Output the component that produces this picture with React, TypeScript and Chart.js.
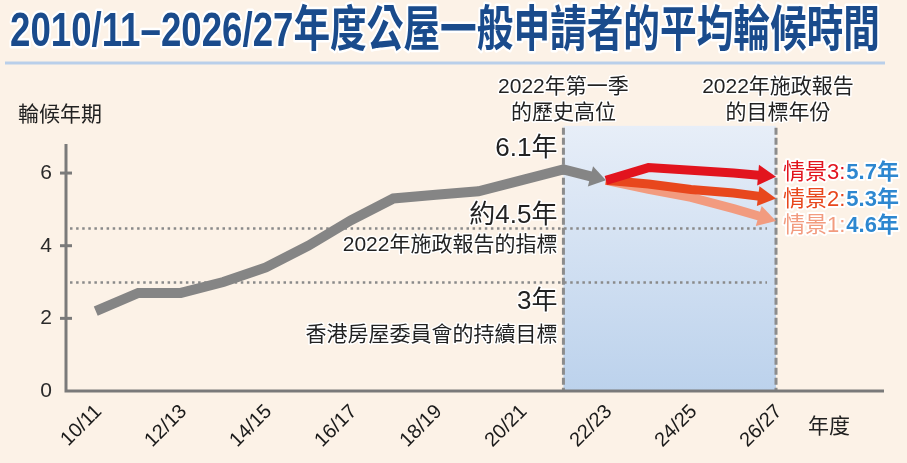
import React, { useEffect, useRef } from 'react';
import { Chart, registerables } from 'chart.js';

Chart.register(...registerables);

// ---------- data ----------
const yearLabels = ['10/11', '11/12', '12/13', '13/14', '14/15', '15/16', '16/17', '17/18', '18/19', '19/20', '20/21', '21/22', '22/23', '23/24', '24/25', '25/26', '26/27'];
const tickYears = ['10/11', '12/13', '14/15', '16/17', '18/19', '20/21', '22/23', '24/25', '26/27'];
// average waiting time (years), last point = arrow into 22/23
const actualWait = [2.2, 2.7, 2.7, 3.0, 3.4, 4.0, 4.7, 5.3, 5.4, 5.5, 5.8, 6.1, 5.8];
const scenarioStartYear = '22/23';
const scenario1 = [5.8, 5.55, 5.33, 5.02, 4.68];
const scenario2 = [5.8, 5.7, 5.55, 5.45, 5.3];
const scenario3 = [5.8, 6.15, 6.08, 6.0, 5.9];
const scenarioNames = ['情景1:', '情景2:', '情景3:'];
const scenarioTargets = ['4.6年', '5.3年', '5.7年'];
const yTickValues = [0, 2, 4, 6];
const policyTarget = 4.5;
const hkhaTarget = 3;
const peakYear = '21/22';
const targetYear = '26/27';

const titleText = '2010/11–2026/27年度公屋一般申請者的平均輪候時間';
const yTitle = '輪候年期';
const xTitle = '年度';
const peakNote = ['2022年第一季', '的歷史高位'];
const targetNote = ['2022年施政報告', '的目標年份'];
const peakValueText = '6.1年';
const policyText = ['約4.5年', '2022年施政報告的指標'];
const hkhaText = ['3年', '香港房屋委員會的持續目標'];

// ---------- styles ----------
const SANS = "'Liberation Sans', Arial, 'Noto Sans CJK TC', sans-serif";
const BG = '#fcf2e7';
const GRAY = '#858585';
const C1 = '#f29b7f';
const C2 = '#e8471d';
const C3 = '#e2141e';
const BLUE_TXT = '#2d87d0';

function txt(ctx: any, s: string, x: number, y: number, font: string, color: string, align: string, halo = 3) {
  ctx.font = font;
  ctx.textAlign = align;
  ctx.textBaseline = 'middle';
  if (halo) {
    ctx.lineJoin = 'round';
    ctx.lineWidth = halo;
    ctx.strokeStyle = '#ffffff';
    ctx.strokeText(s, x, y);
  }
  ctx.fillStyle = color;
  ctx.fillText(s, x, y);
}

const idx = (yr: string) => yearLabels.indexOf(yr);

const decorPlugin = {
  id: 'decor',
  beforeDraw(chart: any) {
    const { ctx, width, height } = chart;
    ctx.save();
    ctx.fillStyle = BG;
    ctx.fillRect(0, 0, width, height);
    // title
    ctx.font = `bold 49px ${SANS}`;
    const w = ctx.measureText(titleText).width;
    const s = 870 / w;
    ctx.translate(10, 32);
    ctx.scale(s, 1);
    ctx.textAlign = 'left';
    ctx.textBaseline = 'middle';
    ctx.lineJoin = 'round';
    ctx.lineWidth = 5;
    ctx.strokeStyle = '#ffffff';
    ctx.strokeText(titleText, 0, 0);
    ctx.fillStyle = '#1a4b8c';
    ctx.fillText(titleText, 0, 0);
    ctx.restore();
    // underline
    ctx.save();
    ctx.strokeStyle = '#b9cfea';
    ctx.lineWidth = 3;
    ctx.beginPath();
    ctx.moveTo(5, 63);
    ctx.lineTo(885, 63);
    ctx.stroke();
    ctx.restore();
  },
  beforeDatasetsDraw(chart: any) {
    const { ctx, chartArea: a, scales } = chart;
    const x = scales.x, y = scales.y;
    const x0 = x.getPixelForValue(idx(peakYear));
    const x1 = x.getPixelForValue(idx(targetYear));
    const top = y.getPixelForValue(7.3);
    ctx.save();
    const g = ctx.createLinearGradient(0, top, 0, a.bottom);
    g.addColorStop(0, '#e7eef8');
    g.addColorStop(1, '#bcd2ec');
    ctx.fillStyle = g;
    ctx.fillRect(x0, top, x1 - x0, a.bottom - top);
    // dotted target lines
    ctx.strokeStyle = '#8a8a8a';
    ctx.lineWidth = 2.5;
    ctx.setLineDash([2.5, 3.6]);
    [policyTarget, hkhaTarget].forEach((v) => {
      const py = Math.round(y.getPixelForValue(v)) + 0.5;
      ctx.beginPath();
      ctx.moveTo(a.left + 4, py);
      ctx.lineTo(x1 - 9, py);
      ctx.stroke();
    });
    // dashed verticals
    ctx.strokeStyle = '#8c8c8c';
    ctx.lineWidth = 3;
    ctx.setLineDash([7, 3]);
    [x0, x1].forEach((px) => {
      ctx.beginPath();
      ctx.moveTo(px, top + 2);
      ctx.lineTo(px, a.bottom);
      ctx.stroke();
    });
    ctx.setLineDash([]);
    // axes
    ctx.strokeStyle = '#7a7a7a';
    ctx.lineWidth = 3;
    ctx.beginPath();
    ctx.moveTo(a.left, a.top);
    ctx.lineTo(a.left, a.bottom);
    ctx.lineTo(a.right, a.bottom);
    ctx.stroke();
    yTickValues.forEach((v) => {
      if (v === 0) return;
      const py = y.getPixelForValue(v);
      ctx.beginPath();
      ctx.moveTo(a.left - 6, py);
      ctx.lineTo(a.left + 6, py);
      ctx.stroke();
    });
    ctx.restore();
  },
  afterDraw(chart: any) {
    const { ctx, scales } = chart;
    const x = scales.x, y = scales.y;
    const xp = x.getPixelForValue(idx(peakYear));
    const xt = x.getPixelForValue(idx(targetYear));
    const F = (sz: number, b = false) => `${b ? 'bold ' : ''}${sz}px ${SANS}`;
    ctx.save();
    txt(ctx, yTitle, 18, 115, F(21), '#222', 'left', 0);
    txt(ctx, xTitle, 808, 427, F(21), '#222', 'left', 0);
    txt(ctx, peakNote[0], xp, 87, F(21), '#222', 'center', 3);
    txt(ctx, peakNote[1], xp, 113, F(21), '#222', 'center', 3);
    txt(ctx, targetNote[0], xt + 2, 87, F(21), '#222', 'center', 3);
    txt(ctx, targetNote[1], xt + 2, 113, F(21), '#222', 'center', 3);
    txt(ctx, peakValueText, xp - 6, y.getPixelForValue(6.1) - 21, F(26), '#222', 'right', 3);
    txt(ctx, policyText[0], xp - 6, y.getPixelForValue(policyTarget) - 12, F(26), '#222', 'right', 3);
    txt(ctx, policyText[1], xp - 6, y.getPixelForValue(policyTarget) + 18, F(21), '#222', 'right', 3);
    txt(ctx, hkhaText[0], xp - 6, y.getPixelForValue(hkhaTarget) + 20, F(26), '#222', 'right', 3);
    txt(ctx, hkhaText[1], xp - 6, y.getPixelForValue(hkhaTarget) + 53, F(21), '#222', 'right', 3);
    // scenario labels
    const colors = [C1, C2, C3];
    const ys = [226, 200, 173];
    for (let i = 0; i < 3; i++) {
      const lx = xt + 7;
      ctx.font = F(22);
      const wName = ctx.measureText(scenarioNames[i]).width;
      txt(ctx, scenarioNames[i], lx, ys[i], F(22), colors[i], 'left', 4);
      txt(ctx, scenarioTargets[i], lx + wName + 1, ys[i], F(22, true), BLUE_TXT, 'left', 4);
    }
    ctx.restore();
  },
};

const arrowPlugin = {
  id: 'arrowHeads',
  beforeDatasetDraw(chart: any, args: any) {
    const ds: any = chart.data.datasets[args.index];
    if (!ds.arrow) return;
    const pts = args.meta.data;
    const last: any = pts[pts.length - 1];
    const prev: any = pts[pts.length - 2];
    const dx = last.x - prev.x, dy = last.y - prev.y;
    const d = Math.hypot(dx, dy) || 1;
    const tip = { x: last.x, y: last.y, ux: dx / d, uy: dy / d };
    args.meta._tip = tip;
    last.x = tip.x - tip.ux * ds.arrow.len * 0.8;
    last.y = tip.y - tip.uy * ds.arrow.len * 0.8;
    if (args.meta.dataset) args.meta.dataset._path = undefined;
  },
  afterDatasetDraw(chart: any, args: any) {
    const ds: any = chart.data.datasets[args.index];
    const tip = args.meta._tip;
    if (!ds.arrow || !tip) return;
    const { ctx } = chart;
    const { len, half } = ds.arrow;
    const bx = tip.x - tip.ux * len, by = tip.y - tip.uy * len;
    const nx = -tip.uy, ny = tip.ux;
    ctx.save();
    ctx.fillStyle = ds.borderColor;
    ctx.beginPath();
    ctx.moveTo(tip.x, tip.y);
    ctx.lineTo(bx + nx * half, by + ny * half);
    ctx.lineTo(bx - nx * half, by - ny * half);
    ctx.closePath();
    ctx.fill();
    ctx.restore();
    const pts = args.meta.data;
    const last: any = pts[pts.length - 1];
    last.x = tip.x;
    last.y = tip.y;
  },
};

export default function App() {
  const ref = useRef<HTMLCanvasElement>(null);
  useEffect(() => {
    const canvas = ref.current as HTMLCanvasElement;
    const s0 = idx(scenarioStartYear);
    const mk = (vals: number[], start: number) => vals.map((v, i) => ({ x: start + i, y: v }));
    const chart = new Chart(canvas, {
      type: 'line',
      data: {
        datasets: [
          { label: scenarioNames[2], data: mk(scenario3, s0), borderColor: C3, borderWidth: 9, arrow: { len: 18, half: 10.5 } } as any,
          { label: scenarioNames[1], data: mk(scenario2, s0), borderColor: C2, borderWidth: 9, arrow: { len: 18, half: 10 } } as any,
          { label: scenarioNames[0], data: mk(scenario1, s0), borderColor: C1, borderWidth: 9, arrow: { len: 18, half: 10.5 } } as any,
          { label: '平均輪候時間', data: mk(actualWait, 0), borderColor: GRAY, borderWidth: 10, arrow: { len: 16, half: 10.5 } } as any,
        ],
      },
      options: {
        responsive: false,
        animation: false,
        devicePixelRatio: 1,
        layout: { padding: { top: 144, right: 23, left: 0, bottom: 0 } },
        plugins: { legend: { display: false }, tooltip: { enabled: false }, title: { display: false } },
        elements: {
          point: { radius: 0, hoverRadius: 0 },
          line: { tension: 0, borderJoinStyle: 'miter', borderCapStyle: 'butt', fill: false },
        },
        scales: {
          x: {
            type: 'linear',
            min: -0.7,
            max: 18.54,
            grid: { display: false, drawTicks: false },
            border: { display: false },
            afterBuildTicks: (s: any) => {
              s.ticks = tickYears.map((t) => ({ value: idx(t) }));
            },
            afterFit: (s: any) => {
              s.height = 72;
            },
            ticks: {
              autoSkip: false,
              maxRotation: 45,
              minRotation: 45,
              padding: 9,
              labelOffset: 3,
              font: { family: SANS, size: 20 },
              color: '#1a1a1a',
              callback: (v: any) => yearLabels[v] ?? '',
            },
          },
          y: {
            min: 0,
            max: 6.8,
            grid: { display: false, drawTicks: false },
            border: { display: false },
            afterBuildTicks: (s: any) => {
              s.ticks = yTickValues.map((v) => ({ value: v }));
            },
            afterFit: (s: any) => {
              s.width = 66;
            },
            ticks: { padding: 14, font: { family: SANS, size: 21 }, color: '#2a2a2a' },
          },
        },
      } as any,
      plugins: [decorPlugin, arrowPlugin],
    });
    return () => chart.destroy();
  }, []);
  return (
    <div style={{ position: 'absolute', left: 0, top: 0, width: 907, height: 463 }}>
      <canvas ref={ref} width={907} height={463} style={{ display: 'block' }} />
    </div>
  );
}
